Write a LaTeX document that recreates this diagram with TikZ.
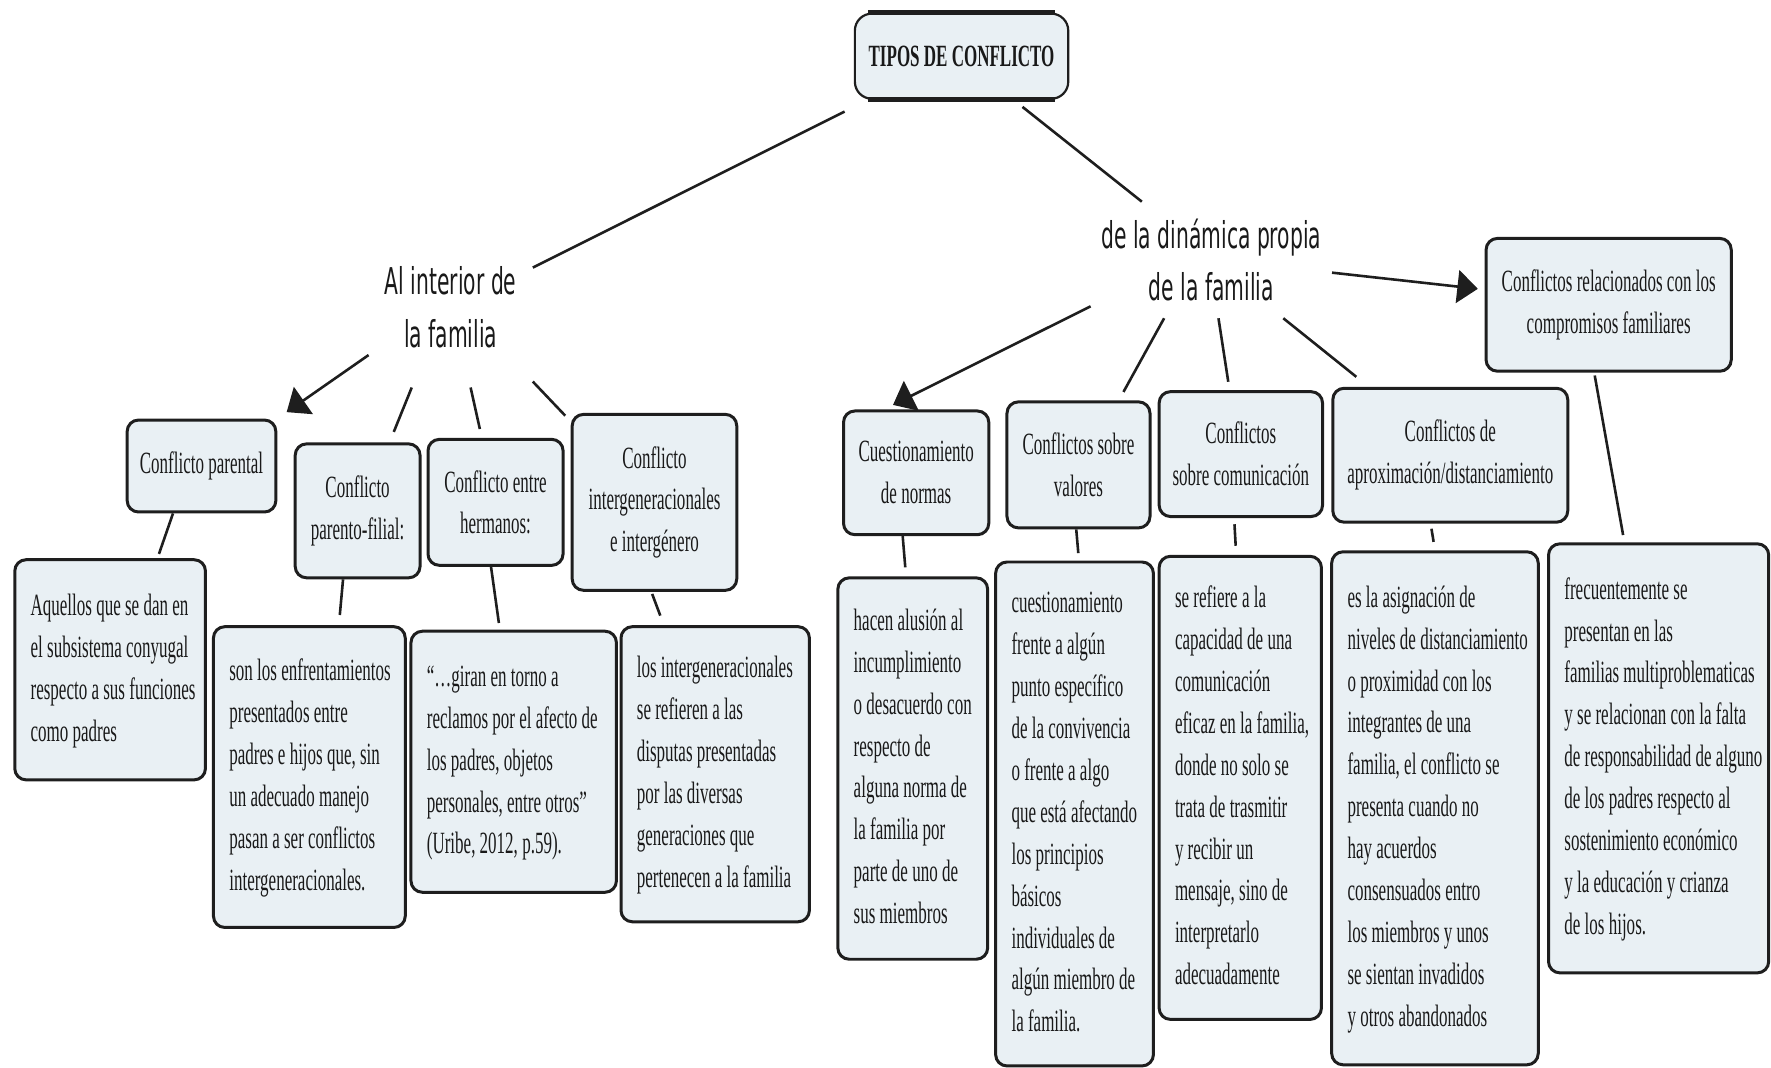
\documentclass[tikz,border=0pt]{standalone}
\usepackage{fontspec}
\usetikzlibrary{arrows.meta}
\newfontfamily\cfont{Liberation Serif}[FakeStretch=0.55]
\newfontfamily\sfont{DejaVu Sans}[FakeStretch=0.55]
\definecolor{boxfill}{RGB}{233,240,244}
\definecolor{txt}{RGB}{25,25,25}
\definecolor{edge}{RGB}{30,30,30}
\newcommand\lns[1]{\noindent\spaceskip=0pt\xspaceskip=0pt\begin{tabular}{@{}l@{}}#1\end{tabular}}
\tikzset{
  hbox/.style={draw=edge, line width=1.5pt, rounded corners=0.2cm, fill=boxfill, align=center,
    font=\cfont\fontsize{15.5}{21}\selectfont, inner sep=0pt, text=txt},
  tbox/.style={hbox, align=left, inner xsep=0.28cm, inner ysep=0pt},
  lbl/.style={align=center, font=\sfont\fontsize{18.5}{26.5}\selectfont, inner sep=0pt, text=txt},
  conn/.style={line width=1.3pt, draw=edge},
  arr/.style={conn, -{Triangle[length=0.36cm, width=0.58cm]}},
}
\begin{document}
\begin{tikzpicture}[x=0.02cm, y=-0.02cm]
\useasboundingbox (0,0) rectangle (1560,940.75);

% top
\node[hbox, rounded corners=0.3cm, line width=1.1pt, minimum width=3.76cm, minimum height=1.5cm] (tipos) at (847,49.5) {\bfseries TIPOS DE CONFLICTO};
\draw[line width=2.6pt, draw=edge] ([xshift=0.25cm]tipos.north west) -- ([xshift=-0.25cm]tipos.north east);
\draw[line width=2.6pt, draw=edge] ([xshift=0.25cm]tipos.south west) -- ([xshift=-0.25cm]tipos.south east);

\node[lbl, minimum width=2.88cm, minimum height=2.8cm] (ai) at (397,271) {Al interior de\\la familia};
\node[lbl, minimum width=4.24cm, minimum height=2.04cm] (din) at (1067,229) {de la dinámica propia\\de la familia};

% second level, left
\node[hbox, minimum width=2.62cm, minimum height=1.62cm] (cpar) at (177.5,410.5) {Conflicto parental};
\node[hbox, minimum width=2.2cm, minimum height=2.36cm] (cpf) at (315,450) {Conflicto\\parento-filial:};
\node[hbox, minimum width=2.38cm, minimum height=2.22cm] (ceh) at (436.5,442.5) {Conflicto entre\\hermanos:};
\node[hbox, minimum width=2.9cm, minimum height=3.1cm] (cig) at (576.5,442.5) {Conflicto\\intergeneracionales\\e intergénero};

% second level, right
\node[hbox, minimum width=2.56cm, minimum height=2.18cm] (ccn) at (807,416.5) {Cuestionamiento\\de normas};
\node[hbox, minimum width=2.52cm, minimum height=2.22cm] (csv) at (950,409.5) {Conflictos sobre\\valores};
\node[hbox, minimum width=2.88cm, minimum height=2.2cm] (csc) at (1093,400) {Conflictos\\sobre comunicación};
\node[hbox, minimum width=4.14cm, minimum height=2.36cm] (cad) at (1277.5,401) {Conflictos de\\aproximación/distanciamiento};
\node[hbox, minimum width=4.32cm, minimum height=2.34cm] (crc) at (1417,268.5) {Conflictos relacionados con los\\compromisos familiares};

% descriptions
\node[tbox, text width=2.8cm, minimum width=3.36cm, minimum height=3.88cm] (daq) at (97,590) {\lns{Aquellos que se dan en\\el subsistema conyugal\\respecto a sus funciones\\como padres}};
\node[tbox, text width=2.82cm, minimum width=3.38cm, minimum height=5.3cm] (dson) at (272.5,684.5) {\lns{son los enfrentamientos\\presentados entre\\padres e hijos que, sin\\un adecuado manejo\\pasan a ser conflictos\\intergeneracionales.}};
\node[tbox, text width=3.06cm, minimum width=3.62cm, minimum height=4.6cm] (dgir) at (452.5,671) {\lns{“…giran en torno a\\reclamos por el afecto de\\los padres, objetos\\personales, entre otros”\\(Uribe, 2012, p.59).}};
\node[tbox, text width=2.76cm, minimum width=3.32cm, minimum height=5.2cm] (dlos) at (630,682) {\lns{los intergeneracionales\\se refieren a las\\disputas presentadas\\por las diversas\\generaciones que\\pertenecen a la familia}};
\node[tbox, text width=2.08cm, minimum width=2.64cm, minimum height=6.72cm] (dhac) at (804,677) {\lns{hacen alusión al\\incumplimiento\\o desacuerdo con\\respecto de\\alguna norma de\\la familia por\\parte de uno de\\sus miembros}};
\node[tbox, text width=2.22cm, minimum width=2.78cm, minimum height=8.88cm] (dcue) at (946.5,717) {\lns{cuestionamiento\\frente a algún\\punto específico\\de la convivencia\\o frente a algo\\que está afectando\\los principios\\básicos\\individuales de\\algún miembro de\\la familia.}};
\node[tbox, text width=2.3cm, minimum width=2.86cm, minimum height=8.16cm] (dser) at (1092.5,694) {\lns{se refiere a la\\capacidad de una\\comunicación\\eficaz en la familia,\\donde no solo se\\trata de trasmitir\\y recibir un\\mensaje, sino de\\interpretarlo\\adecuadamente}};
\node[tbox, text width=3.08cm, minimum width=3.64cm, minimum height=9.04cm] (desl) at (1264,712) {\lns{es la asignación de\\niveles de distanciamiento\\o proximidad con los\\integrantes de una\\familia, el conflicto se\\presenta cuando no\\hay acuerdos\\consensuados entro\\los miembros y unos\\se sientan invadidos\\y otros abandonados}};
\node[tbox, text width=3.32cm, minimum width=3.88cm, minimum height=7.56cm] (dfre) at (1461,668) {\lns{frecuentemente se\\presentan en las\\familias multiproblematicas\\y se relacionan con la falta\\de responsabilidad de alguno\\de los padres respecto al\\sostenimiento económico\\y la educación y crianza\\de los hijos.}};

% connectors
\draw[conn, shorten <=0.46cm] (tipos.205.9) -- (ai.26.9);
\draw[conn, shorten <=0.2cm] (tipos.320.9) -- (din.140.8);
\draw[arr, shorten >=0.2cm] (ai.210) -- (cpar.32.6);
\draw[conn, shorten >=0.2cm] (ai.244.6) -- (cpf.65.8);
\draw[conn, shorten >=0.16cm] (ai.284) -- (ceh.102);
\draw[conn, shorten >=0.14cm] (ai.318) -- (cig.136.1);
\draw[conn, shorten >=0.08cm] (cpar.239.4) -- (daq.67.5);
\draw[conn, shorten >=0.18cm] (cpf.258.6) -- (dson.79.8);
\draw[conn, shorten >=0.12cm] (ceh.266.7) -- (dgir.96.2);
\draw[conn, shorten <=0.04cm, shorten >=0.18cm] (cig.268.3) -- (dlos.109.2);
\draw[arr, shorten >=0.18cm] (din.201.4) -- (ccn.117.1);
\draw[conn, shorten >=0.17cm] (din.231) -- (csv.58.4);
\draw[conn, shorten >=0.15cm] (din.277.2) -- (csc.100);
\draw[conn, shorten >=0.28cm] (din.321) -- (cad.140.8);
\draw[arr, shorten >=0.12cm] (din.354.3) -- (crc.173.3);
\draw[conn, shorten >=0.16cm] (ccn.258.6) -- (dhac.92.7);
\draw[conn, shorten >=0.13cm] (csv.268.5) -- (dcue.89.5);
\draw[conn, shorten <=0.11cm, shorten >=0.16cm] (csc.264.8) -- (dser.91.4);
\draw[conn, shorten <=0.09cm, shorten >=0.15cm] (cad.254.8) -- (desl.90.9);
\draw[conn, shorten <=0.05cm, shorten >=0.13cm] (crc.258) -- (dfre.99.5);
\end{tikzpicture}
\end{document}
